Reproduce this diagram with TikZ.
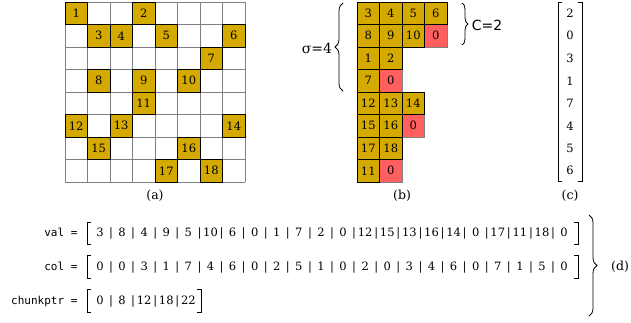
\documentclass[tikz,border=0pt]{standalone}
\usepackage{fontspec}
\setmainfont{DejaVu Serif}
\newfontfamily\codefont{DejaVu Sans Mono}
\newfontfamily\labsans{DejaVu Sans}
\usetikzlibrary{decorations.pathreplacing}
\definecolor{cellgold}{RGB}{212,170,0}
\definecolor{cellred}{RGB}{255,95,95}

\begin{document}
\begin{tikzpicture}[
        x=1pt, y=-1pt,
        every node/.style={font=\fontsize{11.5}{13}\selectfont},
        gridline/.style={draw=gray, line width=0.8pt},
        gcell/.style={
            draw=black,
            fill=cellgold,
            line width=0.8pt,
            minimum size=22.5pt,
            inner sep=0pt
        },
        rcell/.style={
            draw=gray,
            fill=cellred,
            line width=0.8pt,
            minimum size=22.5pt,
            inner sep=0pt
        },
        entry/.style={inner sep=0pt, anchor=base},
        code/.style={font=\codefont\fontsize{11}{13}\selectfont, anchor=base east},
        caption/.style={font=\fontsize{12.5}{14}\selectfont},
        bracket/.style={draw, line width=0.9pt},
        curly/.style={draw, line width=0.8pt, decorate, decoration={brace, amplitude=#1}},
        curly/.default=8pt
    ]
    \useasboundingbox (0,0) rectangle (631,322);

    % =========================
    % (a) sparse matrix
    % =========================
    \foreach \i in {0,...,8} {
        \draw[gridline] ({65+22.5*\i},2) -- ({65+22.5*\i},182);
        \draw[gridline] (65,{2+22.5*\i}) -- (245,{2+22.5*\i});
    }
    \foreach \rr/\cc/\vv in {0/0/1, 0/3/2, 1/1/3, 1/2/4, 1/4/5, 1/7/6, 2/6/7,
                             3/1/8, 3/3/9, 3/5/10, 4/3/11, 5/0/12, 5/2/13, 5/7/14,
                             6/1/15, 6/5/16, 7/4/17, 7/6/18}
        \node[gcell] (a\vv) at ({76.25+22.5*\cc},{13.25+22.5*\rr}) {\vv};

    \node[caption] (capa) at (155,196) {(a)};

    % =========================
    % (b) sliced ELLPACK chunks
    % =========================
    \foreach \rr/\cc in {1/3, 3/1, 5/2, 7/1}
        \node[rcell] (bz\rr) at ({368.25+22.5*\cc},{13.25+22.5*\rr}) {0};
    \foreach \rr/\cc/\vv in {0/0/3, 0/1/4, 0/2/5, 0/3/6, 1/0/8, 1/1/9, 1/2/10,
                             2/0/1, 2/1/2, 3/0/7, 4/0/12, 4/1/13, 4/2/14,
                             5/0/15, 5/1/16, 6/0/17, 6/1/18, 7/0/11}
        \node[gcell] (b\vv) at ({368.25+22.5*\cc},{13.25+22.5*\rr}) {\vv};

    % braces for sigma and C
    \draw[curly] (343,91) -- (343,3);
    \node[font=\fontsize{14}{16}\selectfont] (sigma) at (317,48) {σ=4};
    \draw[curly=6pt] (462,3) -- (462,45);
    \node[font=\labsans\fontsize{14}{16}\selectfont] (chunk) at (487,25) {C=2};

    \node[caption] (capb) at (402,196) {(b)};

    % =========================
    % (c) permutation vector
    % =========================
    \foreach \vv [count=\i from 0] in {2,0,3,1,7,4,5,6}
        \node (perm\i) at (570,{13.25+22.5*\i}) {\vv};
    \draw[bracket] (562,2.5) -- (558,2.5) -- (558,181.5) -- (562,181.5);
    \draw[bracket] (578,2.5) -- (582,2.5) -- (582,181.5) -- (578,181.5);

    \node[caption] (capc) at (570,196) {(c)};

    % =========================
    % (d) storage arrays
    % =========================
    \node[code] (valname) at (81,236.5) {val =};
    \foreach \vv [count=\i from 0] in {3,8,4,9,5,10,6,0,1,7,2,0,12,15,13,16,14,0,17,11,18,0}
        \node[entry] (val\i) at ({100+22.1*\i},236.5) {\vv};
    \foreach \i in {1,...,21}
        \node[entry] (valbar\i) at ({88.95+22.1*\i},236.5) {|};
    \draw[bracket] (91,222) -- (87,222) -- (87,244.5) -- (91,244.5);
    \draw[bracket] (574,222) -- (578,222) -- (578,244.5) -- (574,244.5);

    \node[code] (colname) at (81,270) {col =};
    \foreach \vv [count=\i from 0] in {0,0,3,1,7,4,6,0,2,5,1,0,2,0,3,4,6,0,7,1,5,0}
        \node[entry] (col\i) at ({100+22.1*\i},270) {\vv};
    \foreach \i in {1,...,21}
        \node[entry] (colbar\i) at ({88.95+22.1*\i},270) {|};
    \draw[bracket] (91,255.5) -- (87,255.5) -- (87,278) -- (91,278);
    \draw[bracket] (574,255.5) -- (578,255.5) -- (578,278) -- (574,278);

    \node[code] (ptrname) at (81,304) {chunkptr =};
    \foreach \vv [count=\i from 0] in {0,8,12,18,22}
        \node[entry] (ptr\i) at ({100+22.1*\i},304) {\vv};
    \foreach \i in {1,...,4}
        \node[entry] (ptrbar\i) at ({88.95+22.1*\i},304) {|};
    \draw[bracket] (91,289.5) -- (87,289.5) -- (87,312) -- (91,312);
    \draw[bracket] (197,289.5) -- (201,289.5) -- (201,312) -- (197,312);

    \draw[curly] (589,215) -- (589,316);
    \node[caption] (capd) at (620,267) {(d)};

    \end{tikzpicture}
\end{document}
